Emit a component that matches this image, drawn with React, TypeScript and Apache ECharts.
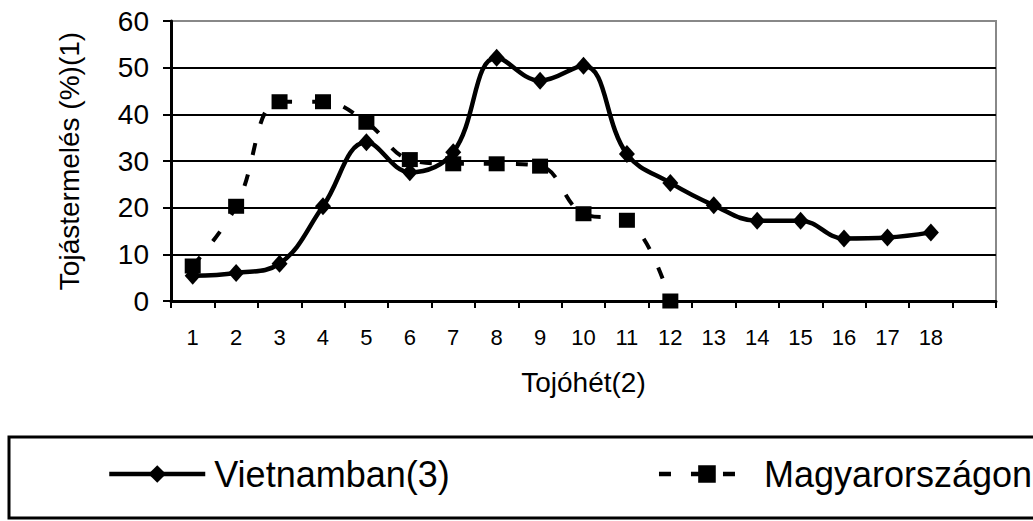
import React, { useEffect, useRef } from "react";
import * as echarts from "echarts";

const weeks = ["1","2","3","4","5","6","7","8","9","10","11","12","13","14","15","16","17","18"];
const vietnamValues = [5.4, 6.0, 8.0, 20.3, 34.0, 27.6, 31.9, 52.1, 47.2, 50.4, 31.5, 25.3, 20.5, 17.2, 17.2, 13.4, 13.6, 14.7];
const hungaryValues = [7.5, 20.3, 42.7, 42.7, 38.3, 30.3, 29.4, 29.4, 28.9, 18.7, 17.3, 0];
const yTicks = { min: 0, max: 60, interval: 10 };
const seriesNames = ["Vietnamban(3)", "Magyarországon(4)"];
const yName = "Tojástermelés (%)(1)";
const xName = "Tojóhét(2)";

const FONT = "'Liberation Sans', Arial, sans-serif";

export default function App() {
  const ref = useRef<HTMLDivElement>(null);
  useEffect(() => {
    if (!ref.current) return;
    const chart = echarts.init(ref.current, null, { renderer: "svg" });
    chart.setOption({
      animation: false,
      backgroundColor: "#ffffff",
      textStyle: { fontFamily: FONT, color: "#000" },
      grid: {
        left: 171,
        right: 37,
        top: 21,
        bottom: 220,
        show: true,
        borderColor: "#888888",
        borderWidth: 2,
        backgroundColor: "transparent",
      },
      xAxis: {
        type: "category",
        data: [...weeks, ""],
        boundaryGap: true,
        name: xName,
        nameLocation: "middle",
        nameGap: 67,
        nameTextStyle: { fontSize: 28, color: "#000", fontFamily: FONT },
        axisLine: { show: true, lineStyle: { color: "#000", width: 3 } },
        axisTick: { show: true, interval: 0, length: 7, lineStyle: { color: "#000", width: 2 } },
        axisLabel: { interval: 0, fontSize: 22, color: "#000", margin: 25, fontFamily: FONT },
        splitLine: { show: false },
      },
      yAxis: {
        type: "value",
        min: yTicks.min,
        max: yTicks.max,
        interval: yTicks.interval,
        name: yName,
        nameLocation: "middle",
        nameRotate: 90,
        nameGap: 88,
        nameTextStyle: { fontSize: 28, color: "#000", fontFamily: FONT },
        axisLine: { show: true, lineStyle: { color: "#000", width: 3 } },
        axisTick: { show: true, length: 8, lineStyle: { color: "#000", width: 2 } },
        axisLabel: { fontSize: 28, color: "#000", margin: 22, fontFamily: FONT },
        splitLine: {
          show: true,
          lineStyle: { color: ["#000", "#000", "#000", "#000", "#000", "#000", "#888"], width: 2 },
        },
      },
      legend: {
        left: 107,
        top: 456,
        width: 2000,
        itemWidth: 96,
        itemHeight: 22,
        itemGap: 207,
        padding: 0,
        lineStyle: { width: 4.5 },
        textStyle: { fontSize: 36, color: "#000", fontFamily: FONT, padding: [0, 0, 0, 4] },
        data: seriesNames,
      },
      graphic: [
        {
          type: "rect",
          shape: { x: 9, y: 437, width: 1100, height: 81 },
          style: { fill: "none", stroke: "#000", lineWidth: 3 },
          silent: true,
        },
      ],
      series: [
        {
          name: seriesNames[0],
          type: "line",
          data: vietnamValues,
          smooth: 0.4,
          symbol: "diamond",
          symbolSize: [16, 18],
          showAllSymbol: true,
          lineStyle: { color: "#000", width: 4.5, type: "solid" },
          itemStyle: { color: "#000" },
          z: 2,
        },
        {
          name: seriesNames[1],
          type: "line",
          data: hungaryValues,
          smooth: 0.4,
          symbol: "rect",
          symbolSize: [16, 15],
          showAllSymbol: true,
          lineStyle: { color: "#000", width: 4, type: [12, 20] },
          itemStyle: { color: "#000" },
          z: 3,
        },
      ],
    });
    return () => chart.dispose();
  }, []);
  return <div ref={ref} style={{ width: 1033, height: 521, position: "absolute", left: 0, top: 0 }} />;
}
